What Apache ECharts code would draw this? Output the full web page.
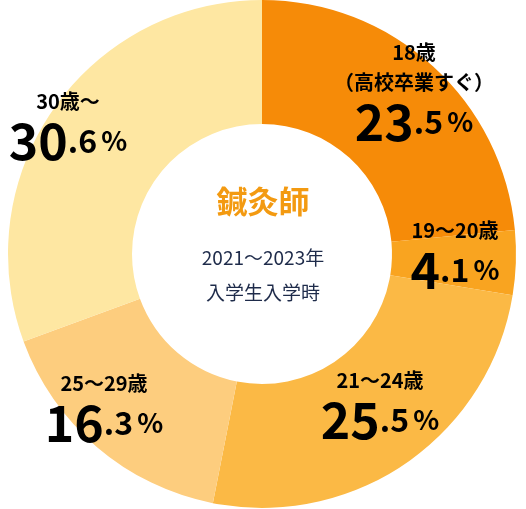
<!DOCTYPE html><html><head><meta charset="utf-8">
<script src="https://cdn.jsdelivr.net/npm/echarts@6/dist/echarts.min.js"></script>
<style>html,body{margin:0;padding:0;background:#fff}#c{width:526px;height:509px}</style></head><body><div id="c"></div>
<script>
const categories=['18歳\n（高校卒業すぐ）','19〜20歳','21〜24歳','25〜29歳','30歳〜'];
const values=[23.5,4.1,25.5,16.3,30.6];
const colors=['#F68B08','#F9A420','#FBB945','#FDCD7E','#FEE7A2'];
const labelPos=[[414,92],[455,255],[380,405],[104,408],[68,126]];
const ch=echarts.init(document.getElementById('c'));
const F='"Noto Sans CJK JP","Noto Sans",sans-serif';
const rich={n:{fontSize:20,fontWeight:'bold',color:'#111',fontFamily:F,lineHeight:30,align:'center'},
  b:{fontSize:50,fontWeight:'bold',color:'#111',fontFamily:F,lineHeight:50,padding:[0,0,0,0]},
  d:{fontSize:32,fontWeight:'bold',color:'#111',fontFamily:F,lineHeight:50,padding:[0,0,0,0]},
  p:{fontSize:27,fontWeight:'bold',color:'#111',fontFamily:F,lineHeight:50,padding:[0,0,0,4]}};
const labels=values.map((v,i)=>{const s=v.toFixed(1).split('.');
  return {type:'text',x:labelPos[i][0],y:labelPos[i][1],z:10,style:{text:categories[i].split('\n').map(t=>'{n|'+t+'}').join('\n')+'\n{b|'+s[0]+'}{d|.'+s[1]+'}{p|%}',rich:rich,align:'center',verticalAlign:'middle'}};});
ch.setOption({
 series:[{type:'pie',radius:[130,254],center:[262,254],startAngle:90,clockwise:true,silent:true,
  data:values.map((v,i)=>({value:v,name:categories[i],itemStyle:{color:colors[i]}})),
  label:{show:false},labelLine:{show:false}}],
 graphic:labels.concat([
  {type:'text',left:'center',top:186,style:{text:'鍼灸師',font:'bold 31px '+F,fill:'#F39A11'}},
  {type:'text',left:'center',top:248,style:{text:'2021〜2023年',font:'19px '+F,fill:'#1E2B4A'}},
  {type:'text',left:'center',top:283,style:{text:'入学生入学時',font:'19px '+F,fill:'#1E2B4A'}}
 ])
});
</script></body></html>
